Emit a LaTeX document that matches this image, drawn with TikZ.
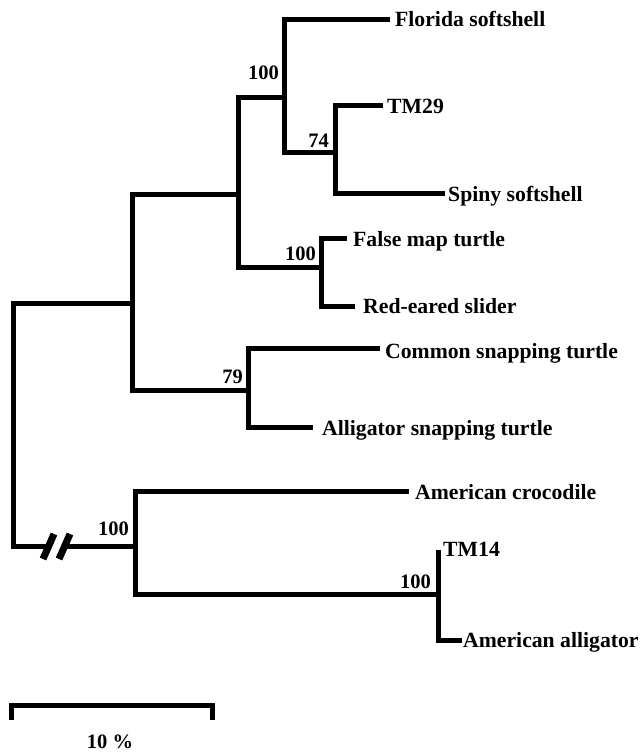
\documentclass[tikz,border=0pt]{standalone}
\usepackage{fontspec}
\setmainfont{Liberation Serif}
\begin{document}
\begin{tikzpicture}[x=1pt,y=-1pt,
  br/.style={line width=5pt, line join=miter, line cap=butt},
  slash/.style={line width=7pt, line cap=butt},
  leaf/.style={anchor=base west, inner sep=0pt, font=\fontsize{21.7}{26}\selectfont\bfseries},
  bs/.style={anchor=base east, inner sep=0pt, font=\fontsize{20.5}{24}\selectfont\bfseries}]
\useasboundingbox (0,0) rectangle (640,752);
% internal nodes
\coordinate (R) at (13,424);
\coordinate (T) at (132,303);
\coordinate (U) at (238,194);
\coordinate (S) at (284,97);
\coordinate (S2) at (335,152);
\coordinate (M) at (321,267);
\coordinate (P) at (248,390);
\coordinate (C) at (135,546);
\coordinate (A) at (438,594);
\coordinate (brkA) at (49,546);
\coordinate (brkB) at (65,546);
% leaf line ends
\coordinate (floE) at (390,20);
\coordinate (tmaE) at (383,105);
\coordinate (spiE) at (445,193);
\coordinate (fmtE) at (347,238);
\coordinate (resE) at (355,306);
\coordinate (comE) at (380,348);
\coordinate (astE) at (313,427);
\coordinate (croE) at (409,491);
\coordinate (tmbE) at (438,550);
\coordinate (amaE) at (462,640);
% leaf labels
\node[leaf] (flo) at (395,27) {Florida softshell};
\node[leaf] (tma) at (387,113) {TM29};
\node[leaf] (spi) at (448,201) {Spiny softshell};
\node[leaf] (fmt) at (353,246) {False map turtle};
\node[leaf] (res) at (363,313) {Red-eared slider};
\node[leaf] (com) at (385,358) {Common snapping turtle};
\node[leaf] (ast) at (322,435) {Alligator snapping turtle};
\node[leaf] (cro) at (415,499) {American crocodile};
\node[leaf] (tmb) at (443,556) {TM14};
\node[leaf] (ama) at (463,647) {American alligator};
% branches
\draw[br] (T) -| (R) |- (brkA);
\draw[br] (brkB) -- (C);
\draw[br] (U) -| (T) |- (P);
\draw[br] (S) -| (U) |- (M);
\draw[br] (floE) -| (S) |- (S2);
\draw[br] (tmaE) -| (S2) |- (spiE);
\draw[br] (fmtE) -| (M) |- (resE);
\draw[br] (comE) -| (P) |- (astE);
\draw[br] (croE) -| (C) |- (A);
\draw[br] (tmbE) |- (amaE);
% break marks
\draw[slash] (43,559) -- (54,534);
\draw[slash] (59,559) -- (70,534);
% bootstrap values
\node[bs] (b1) at (279,80) {100};
\node[bs] (b2) at (329,147) {74};
\node[bs] (b3) at (316,260) {100};
\node[bs] (b4) at (243,383) {79};
\node[bs] (b5) at (129,535) {100};
\node[bs] (b6) at (431,588) {100};
% scale bar
\coordinate (sbL) at (11,720);
\coordinate (sbT) at (111.5,705);
\coordinate (sbR) at (212,720);
\draw[br] (sbL) |- (sbT) -| (sbR);
\node[anchor=base, inner sep=0pt, font=\fontsize{20.5}{24}\selectfont\bfseries] (sbl) at (110,748) {10 \%};
\end{tikzpicture}
\end{document}
